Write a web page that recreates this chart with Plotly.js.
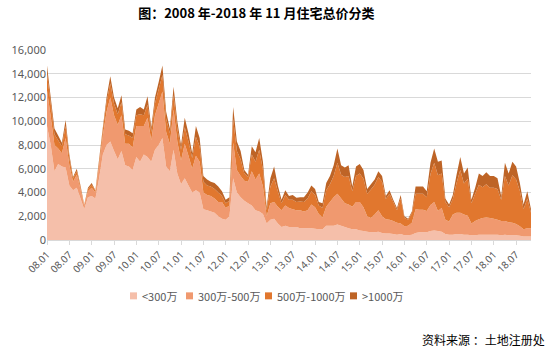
<!DOCTYPE html>
<html>
<head>
<meta charset="utf-8">
<script src="https://cdn.plot.ly/plotly-3.0.1.min.js"></script>
<style>
html,body{margin:0;padding:0;background:#fff;}
#chart{width:550px;height:356px;}
</style>
</head>
<body>
<div id="chart"></div>
<script>
// Monthly categories 2008.01 - 2018.11
var categories = [];
for (var yr = 8; yr <= 18; yr++) {
  for (var m = 1; m <= 12; m++) {
    if (yr === 18 && m > 11) break;
    categories.push((yr < 10 ? '0' + yr : '' + yr) + '.' + (m < 10 ? '0' + m : '' + m));
  }
}
var tickLabels = ['08.01','08.07','09.01','09.07','10.01','10.07','11.01','11.07','12.01','12.07',
  '13.01','13.07','14.01','14.07','15.01','15.07','16.01','16.07','17.01','17.07','18.01','18.07'];

var seriesNames = ['<300万', '300万-500万', '500万-1000万', '>1000万'];

var under300 = [
  9600, 8000, 5800, 6400, 6200, 6100, 4600, 4200, 4400, 3500,
  2600, 3600, 3700, 3500, 5200, 7200, 8000, 8300, 7500, 6800,
  7500, 6300, 6200, 5900, 7000, 6600, 7200, 7000, 6600, 7600,
  8000, 8600, 6200, 5800, 7600, 5600, 4700, 5200, 4600, 4000,
  4200, 4000, 2600, 2500, 2400, 2300, 2000, 1800, 1700, 2000,
  5200, 4000, 3600, 3300, 3100, 2900, 2500, 2400, 2200, 1400,
  1700, 1800, 1400, 1100, 1200, 1100, 1100, 1100, 1000, 1000,
  1000, 1000, 950, 900, 900, 1200, 1200, 1200, 1300, 1200,
  1100, 1000, 900, 900, 800, 750, 700, 650, 650, 700,
  600, 550, 550, 500, 450, 500, 400, 400, 450, 600,
  650, 650, 650, 750, 800, 750, 700, 500, 450, 450,
  500, 500, 450, 450, 400, 400, 450, 450, 450, 450,
  450, 450, 400, 450, 400, 400, 400, 350, 300, 300, 300
];
var from300to500 = [
  3000, 2400, 2200, 1300, 1100, 2500, 1700, 700, 1100, 800,
  280, 500, 700, 500, 1100, 1600, 2800, 3700, 3000, 2900,
  3000, 1800, 1900, 1900, 2600, 3000, 2400, 3300, 1800, 2900,
  3500, 3900, 2900, 2300, 3400, 2700, 2000, 2900, 2500, 2000,
  2900, 2600, 1400, 1300, 1300, 1200, 1200, 1400, 1000, 900,
  3000, 1900, 1800, 1700, 1800, 2900, 2600, 3200, 2300, 600,
  1400, 1400, 1400, 1400, 1700, 1600, 1500, 1400, 1500, 1400,
  1500, 2000, 1800, 1300, 1000, 1600, 2000, 2400, 2600, 2300,
  2000, 2000, 1900, 2300, 2400, 2000, 1300, 1200, 1500, 1800,
  1400, 1200, 1150, 1100, 1000, 900, 750, 800, 1000, 2000,
  1900, 1900, 1800, 2200, 2400, 1700, 2000, 1200, 1100, 1700,
  1800, 1800, 1700, 1600, 1000, 1200, 1300, 1400, 1450, 1400,
  1350, 1250, 1200, 1150, 1100, 1050, 950, 800, 600, 700, 700
];
var from500to1000 = [
  1400, 1100, 900, 700, 600, 1000, 600, 300, 300, 200,
  80, 200, 250, 150, 350, 500, 800, 1200, 1000, 900,
  1100, 800, 700, 800, 900, 1000, 900, 1100, 700, 1000,
  1200, 1400, 1100, 900, 1200, 1100, 900, 1400, 1200, 900,
  1600, 1300, 900, 800, 800, 800, 800, 500, 400, 400,
  2000, 1600, 1400, 600, 400, 1400, 1500, 2000, 1400, 500,
  1400, 2000, 1300, 600, 900, 700, 800, 700, 750, 800,
  1000, 1100, 1050, 700, 800, 1400, 1500, 1800, 2600, 2000,
  2200, 2400, 1300, 2200, 2400, 2400, 1900, 2400, 2500, 2800,
  2900, 1700, 2200, 1600, 1050, 2100, 700, 500, 800, 1300,
  1350, 1350, 1150, 2600, 3300, 3000, 2900, 1500, 1200, 1300,
  2500, 3600, 2600, 3100, 1700, 2300, 2900, 2600, 2800, 2550,
  2600, 2600, 1800, 3800, 3100, 4000, 3750, 3000, 1700, 2500, 1300
];
var over1000 = [
  700, 500, 500, 400, 300, 500, 300, 100, 200, 100,
  40, 100, 150, 50, 150, 200, 400, 600, 500, 500,
  600, 400, 400, 400, 500, 600, 500, 700, 400, 500,
  600, 800, 600, 400, 700, 600, 400, 800, 700, 400,
  900, 700, 500, 500, 400, 500, 500, 400, 300, 300,
  1000, 800, 700, 300, 200, 700, 800, 1000, 700, 300,
  700, 1000, 500, 300, 400, 300, 400, 350, 350, 400,
  500, 500, 500, 300, 400, 600, 700, 900, 1200, 800,
  800, 900, 400, 800, 800, 750, 400, 450, 450, 500,
  500, 250, 300, 200, 200, 300, 150, 100, 150, 600,
  600, 600, 500, 950, 1200, 1150, 1100, 300, 250, 350,
  700, 1100, 850, 950, 300, 500, 950, 950, 1000, 1000,
  1000, 900, 300, 1100, 1000, 1150, 1100, 650, 400, 600, 300
];

var colors = ['#F5BFAA', '#F0996F', '#E1772E', '#BE6426'];
var seriesData = [under300, from300to500, from500to1000, over1000];

var traces = seriesData.map(function (vals, k) {
  return {
    x: categories,
    y: vals,
    name: seriesNames[k],
    type: 'scatter',
    mode: 'none',
    stackgroup: 'one',
    fill: 'tonexty',
    fillcolor: colors[k],
    line: {width: 0, shape: 'linear'},
    showlegend: false
  };
});

// Plot area in pixels
var L = 47, R = 531, T = 50, B = 240.5, W = 550, H = 356;
function px2paperX(x) { return (x - L) / (R - L); }
function px2paperY(y) { return (B - y) / (B - T); }

// Legend (small squares + labels), like the original
var legendX = [130, 186, 265, 350];
var legendY = 296.5;
var shapes = [], annotations = [];
seriesNames.forEach(function (name, k) {
  shapes.push({
    type: 'rect', xref: 'paper', yref: 'paper',
    x0: px2paperX(legendX[k]), x1: px2paperX(legendX[k] + 7),
    y0: px2paperY(legendY - 3.5), y1: px2paperY(legendY + 3.5),
    fillcolor: colors[k], line: {width: 0}
  });
  annotations.push({
    text: name, xref: 'paper', yref: 'paper',
    x: px2paperX(legendX[k] + 10), xanchor: 'left',
    y: px2paperY(legendY), yanchor: 'middle',
    showarrow: false,
    font: {size: 11, color: '#595959', family: '"Noto Sans CJK SC", sans-serif'}
  });
});
annotations.push({
  text: '资料来源 ：土地注册处',
  xref: 'paper', yref: 'paper',
  x: px2paperX(547), xanchor: 'right',
  y: px2paperY(340), yanchor: 'middle',
  showarrow: false,
  font: {size: 12, color: '#000000', family: '"Noto Sans CJK SC", sans-serif'}
});

var layout = {
  width: W,
  height: H,
  margin: {l: L, r: W - R, t: T, b: H - B},
  paper_bgcolor: '#ffffff',
  plot_bgcolor: '#ffffff',
  font: {family: '"Noto Sans CJK SC", "Noto Sans", sans-serif', color: '#595959'},
  title: {
    text: '<b>图：2008 年-2018 年 11 月住宅总价分类</b>',
    font: {family: '"Noto Sans CJK SC", sans-serif', size: 13, color: '#000000'},
    xref: 'container', yref: 'container',
    x: 0.466, xanchor: 'center',
    y: 0.962, yanchor: 'middle'
  },
  xaxis: {
    type: 'category',
    categoryorder: 'array',
    categoryarray: categories,
    range: [0, categories.length - 1],
    tickmode: 'array',
    tickvals: tickLabels,
    ticktext: tickLabels,
    tickangle: -45,
    ticks: 'outside',
    ticklen: 4,
    tickcolor: '#d9d9d9',
    showline: true,
    linecolor: '#d9d9d9',
    linewidth: 1,
    showgrid: false,
    zeroline: false,
    tickfont: {size: 10, color: '#595959', family: '"Noto Sans", sans-serif'}
  },
  yaxis: {
    range: [0, 16000],
    dtick: 2000,
    tick0: 0,
    tickformat: ',d',
    showgrid: true,
    gridcolor: '#d9d9d9',
    gridwidth: 1,
    showline: false,
    zeroline: false,
    ticks: '',
    tickfont: {size: 11, color: '#595959', family: '"Noto Sans", sans-serif'}
  },
  showlegend: false,
  shapes: shapes,
  annotations: annotations
};

Plotly.newPlot('chart', traces, layout, {displayModeBar: false, staticPlot: true});
</script>
</body>
</html>
